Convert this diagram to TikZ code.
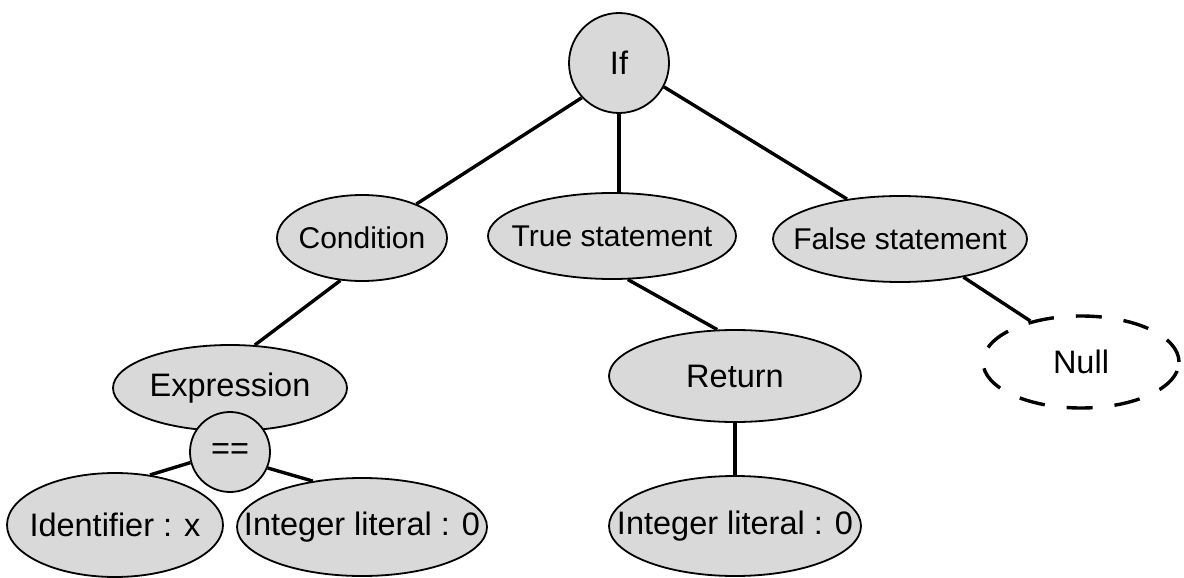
\documentclass[tikz,border=0pt]{standalone}
\usepackage{fontspec}
\setmainfont{Liberation Sans}
\usetikzlibrary{shapes.geometric}
\definecolor{nodegray}{HTML}{D9D9D9}
\tikzset{
  el/.style={ellipse, draw=black, line width=1.8pt, fill=nodegray, inner sep=0pt},
  cir/.style={circle, draw=black, line width=1.8pt, fill=nodegray, inner sep=0pt},
  nulls/.style={ellipse, draw=black, line width=3.4pt, dash pattern=on 26pt off 22pt, inner sep=0pt},
  edge/.style={draw=black, line width=3.4pt},
  big/.style={font=\fontsize{32.5}{38}\selectfont},
  mid/.style={font=\fontsize{30}{35}\selectfont}
}
\newcommand{\lbl}[1]{\makebox[0pt]{#1}}
\begin{document}
\begin{tikzpicture}[x=1pt,y=1pt]
\useasboundingbox (0,0) rectangle (1184,-578);
% nodes
\node[cir, big, minimum size=100pt] (if) at (619,-63) {If};
\node[el, mid, minimum width=170pt, minimum height=86pt] (cond) at (362,-238) {\lbl{Condition}};
\node[el, mid, minimum width=248pt, minimum height=86pt] (true) at (612,-236) {\lbl{True statement}};
\node[el, mid, minimum width=254pt, minimum height=86pt] (false) at (900,-239) {\lbl{False statement}};
\node[el, big, minimum width=234pt, minimum height=86pt] (expr) at (230,-388) {\lbl{Expression}};
\node[cir, big, minimum size=80pt] (eq) at (230,-452) {==};
\node[el, big, minimum width=216pt, minimum height=104pt] (ident) at (115,-525) {\lbl{Identifier : x}};
\node[el, big, minimum width=250pt, minimum height=98pt] (intl) at (362,-527) {\lbl{Integer literal : 0}};
\node[el, big, minimum width=252pt, minimum height=92pt] (ret) at (735,-376) {\lbl{Return}};
\node[el, big, minimum width=252pt, minimum height=100pt] (intr) at (735,-526) {\lbl{Integer literal : 0}};
\node[nulls, big, minimum width=196pt, minimum height=92pt] (null) at (1081,-362) {\lbl{Null}};
% edges
\draw[edge] (if.223) -- (cond.32);
\draw[edge] (if.south) -- (if.south |- true.north);
\draw[edge] (if.-28) -- (false.143);
\draw[edge] (cond.-117) -- (expr.60);
\draw[edge] (true.-70) -- (ret.111);
\draw[edge] (false.-31) -- (null.141);
\draw[edge] (ret.south) -- (intr.north);
\draw[edge] (eq.195) -- (ident.55);
\draw[edge] (eq.-23) -- (intl.137);
\end{tikzpicture}
\end{document}
